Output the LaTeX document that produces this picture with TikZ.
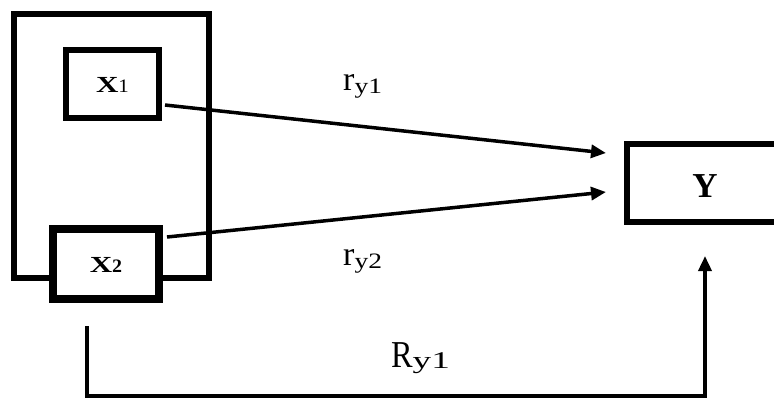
\documentclass[tikz,border=0pt]{standalone}
\usepackage{fontspec}
\setmainfont{Liberation Serif}
\usetikzlibrary{arrows.meta}
\begin{document}
\begin{tikzpicture}[x=1bp,y=-1bp,
  boxn/.style={draw=black,fill=white,rectangle,inner sep=0pt,line width=6bp},
  arr/.style={line width=3.5bp,-{Triangle[length=15bp,width=13bp]}},
  lbl/.style={inner sep=0pt,anchor=base west}]
\useasboundingbox (0,0) rectangle (774,400);
\clip (0,0) rectangle (774,400);
% outer group box
\node[boxn,minimum width=195bp,minimum height=264bp] (grp) at (111.5,146) {};
\node[boxn,minimum width=93bp,minimum height=68bp] (x1) at (112.5,84)
  {\raisebox{-1bp}[\height][0pt]{\scalebox{1.35}[1]{\fontsize{23bp}{23bp}\selectfont\bfseries X}\scalebox{1.1}[1]{\fontsize{19bp}{19bp}\selectfont 1}}};
\node[boxn,line width=8bp,minimum width=106bp,minimum height=70bp] (x2) at (106,264)
  {\raisebox{-1bp}[\height][0pt]{\scalebox{1.35}[1]{\fontsize{23bp}{23bp}\selectfont\bfseries X}\scalebox{1.05}[1]{\fontsize{19bp}{19bp}\selectfont\bfseries 2}}};
\node[boxn,minimum width=156bp,minimum height=78bp] (y) at (705,183)
  {\raisebox{-3.5bp}[\height][0pt]{\fontsize{35bp}{35bp}\selectfont\bfseries Y}};
% arrows
\draw[arr] ([xshift=3bp,yshift=-21bp]x1.east) -- ([xshift=-18bp,yshift=30bp]y.west);
\draw[arr] ([xshift=4bp,yshift=27bp]x2.east) -- ([xshift=-18bp,yshift=-9bp]y.west);
\coordinate (s) at (87,326);
\coordinate (c) at (705,396);
\draw[arr] (s) |- (c) -- ([yshift=-31bp]y.south);
% labels
\node[lbl] (r1) at (343,90) {{\fontsize{34bp}{34bp}\selectfont r}\raisebox{-3bp}{\scalebox{1.25}[1]{\fontsize{22bp}{22bp}\selectfont y1}}};
\node[lbl] (r2) at (343,265) {{\fontsize{34bp}{34bp}\selectfont r}\raisebox{-3bp}{\scalebox{1.25}[1]{\fontsize{22bp}{22bp}\selectfont y2}}};
\node[lbl] (R1) at (391,367) {\scalebox{0.85}[1]{\fontsize{38bp}{38bp}\selectfont R}\raisebox{-1bp}{\scalebox{1.55}[1]{\fontsize{24bp}{24bp}\selectfont y1}}};
\end{tikzpicture}
\end{document}
